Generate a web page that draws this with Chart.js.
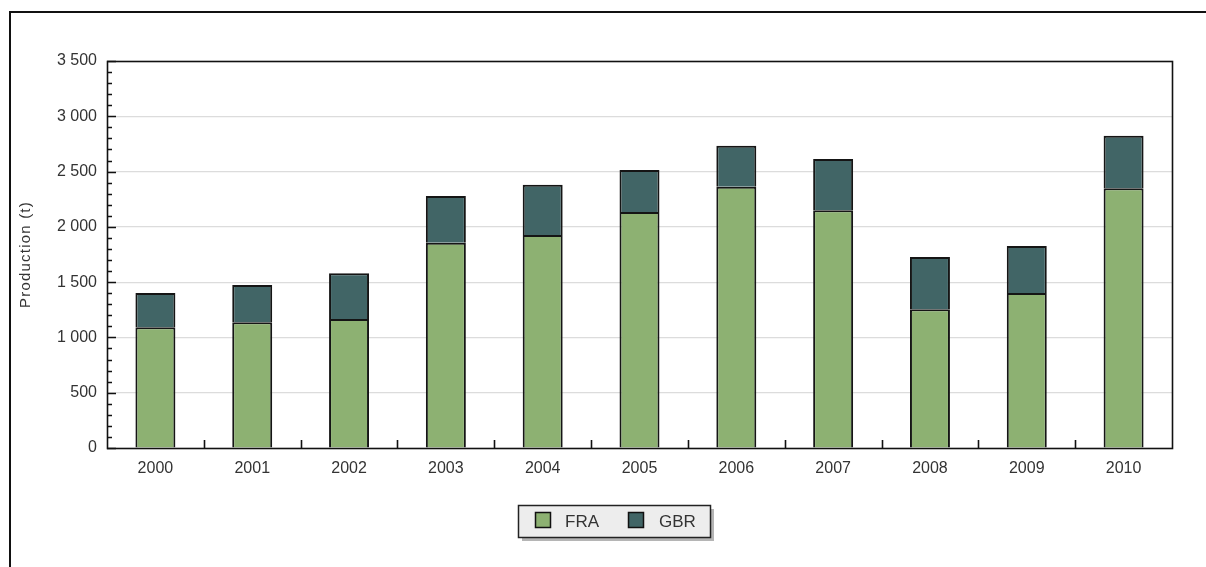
<!DOCTYPE html>
<html><head><meta charset="utf-8">
<script src="https://cdn.jsdelivr.net/npm/chart.js@4.4.0/dist/chart.umd.min.js"></script>
<style>html,body{margin:0;padding:0;background:#fff;overflow:hidden}#wrap{position:relative;width:1206px;height:567px}</style>
</head><body><div id="wrap"><canvas id="c" width="1206" height="567"></canvas></div>
<script>
const categories = ['2000','2001','2002','2003','2004','2005','2006','2007','2008','2009','2010'];
const fraValues = [1092, 1137, 1167, 1857, 1926, 2134, 2363, 2150, 1254, 1402, 2349];
const gbrValues = [310, 337, 413, 422, 455, 380, 371, 464, 473, 425, 476];
const seriesNames = ['FRA', 'GBR'];
const seriesColors = ['#8db172', '#416566'];
const yMin = 0, yMax = 3500, yStep = 500, yMinorStep = 100;
const yTitle = 'Production (t)';

const FONT = '"Liberation Sans", Arial, sans-serif';
const TXT = '#333';

function fmt(v){ return String(v).replace(/\B(?=(\d{3})+(?!\d))/g, ' '); }

const decor = {
  id: 'decor',
  afterDatasetsDraw(chart){
    const ctx = chart.ctx, a = chart.chartArea;
    const ys = chart.scales.y, xs = chart.scales.x;
    ctx.save();
    // plot box
    ctx.strokeStyle = '#111'; ctx.lineWidth = 1.6;
    ctx.strokeRect(a.left + 0.5, a.top + 0.5, a.right - a.left, a.bottom - a.top);
    // y ticks (inward)
    ctx.lineWidth = 1.6;
    ctx.beginPath();
    for (let v = yMin; v <= yMax; v += yMinorStep){
      const y = Math.round(ys.getPixelForValue(v)) + 0.5;
      const len = (v % yStep === 0) ? 9 : 5;
      ctx.moveTo(a.left, y); ctx.lineTo(a.left + len, y);
    }
    // x ticks at category boundaries
    const n = categories.length;
    for (let i = 1; i < n; i++){
      const x = Math.round((xs.getPixelForValue(i - 1) + xs.getPixelForValue(i)) / 2) + 0.5;
      ctx.moveTo(x, a.bottom); ctx.lineTo(x, a.bottom - 8);
    }
    ctx.stroke();
    ctx.restore();
  },
  afterDraw(chart){
    const ctx = chart.ctx, a = chart.chartArea;
    ctx.save();
    // outer frame
    ctx.strokeStyle = '#111'; ctx.lineWidth = 2;
    ctx.beginPath();
    ctx.moveTo(10, 567); ctx.lineTo(10, 12); ctx.lineTo(1206, 12);
    ctx.stroke();
    // y axis title
    ctx.save();
    ctx.translate(26, (a.top + a.bottom) / 2);
    ctx.rotate(-Math.PI / 2);
    ctx.font = '15px ' + FONT;
    if ('letterSpacing' in ctx) ctx.letterSpacing = '1.2px';
    ctx.fillStyle = TXT;
    ctx.textAlign = 'center';
    ctx.textBaseline = 'middle';
    ctx.fillText(yTitle, 0, 0);
    ctx.restore();
    // legend box
    const bx = 518, by = 505, bw = 192, bh = 32;
    ctx.fillStyle = '#b5b5b5';
    ctx.fillRect(bx + 4, by + 4, bw, bh);
    ctx.fillStyle = '#ededed';
    ctx.fillRect(bx, by, bw, bh);
    ctx.strokeStyle = '#222'; ctx.lineWidth = 1.5;
    ctx.strokeRect(bx + 0.5, by + 0.5, bw, bh);
    const items = [{sx: 535, tx: 565}, {sx: 628, tx: 659}];
    ctx.font = '17px ' + FONT;
    ctx.textBaseline = 'middle';
    ctx.textAlign = 'left';
    chart.data.datasets.forEach((ds, i) => {
      const it = items[i];
      ctx.fillStyle = ds.backgroundColor;
      ctx.fillRect(it.sx, 512, 16, 16);
      ctx.strokeStyle = '#111'; ctx.lineWidth = 1.5;
      ctx.strokeRect(it.sx + 0.5, 512.5, 15, 15);
      ctx.fillStyle = TXT;
      ctx.fillText(ds.label, it.tx, 522);
    });
    ctx.restore();
  }
};

new Chart(document.getElementById('c'), {
  type: 'bar',
  data: {
    labels: categories,
    datasets: [
      { label: seriesNames[0], data: fraValues, backgroundColor: seriesColors[0], borderColor: '#151515', borderWidth: 2, borderSkipped: 'bottom' },
      { label: seriesNames[1], data: gbrValues, backgroundColor: seriesColors[1], borderColor: '#151515', borderWidth: 2, borderSkipped: 'bottom' }
    ]
  },
  options: {
    responsive: false, animation: false, devicePixelRatio: 1,
    layout: { padding: { left: 0, top: 61, right: 34, bottom: 0 } },
    datasets: { bar: { barPercentage: 0.413, categoryPercentage: 1 } },
    plugins: { legend: { display: false }, tooltip: { enabled: false } },
    scales: {
      x: {
        stacked: true,
        grid: { display: false, drawTicks: false },
        border: { display: false },
        ticks: { color: TXT, font: { family: FONT, size: 16 }, padding: 11, maxRotation: 0 },
        afterFit(s){ s.height = 119; }
      },
      y: {
        stacked: true, min: yMin, max: yMax,
        grid: { drawTicks: false, lineWidth: 1.2, color: (c) => (c.tick && (c.tick.value === yMin || c.tick.value === yMax)) ? 'rgba(0,0,0,0)' : '#dcdcdc' },
        border: { display: false },
        ticks: { stepSize: yStep, color: TXT, font: { family: FONT, size: 16 }, padding: 10, callback: (v) => fmt(v) },
        afterFit(s){ s.width = 107; }
      }
    }
  },
  plugins: [decor]
});
</script></body></html>
